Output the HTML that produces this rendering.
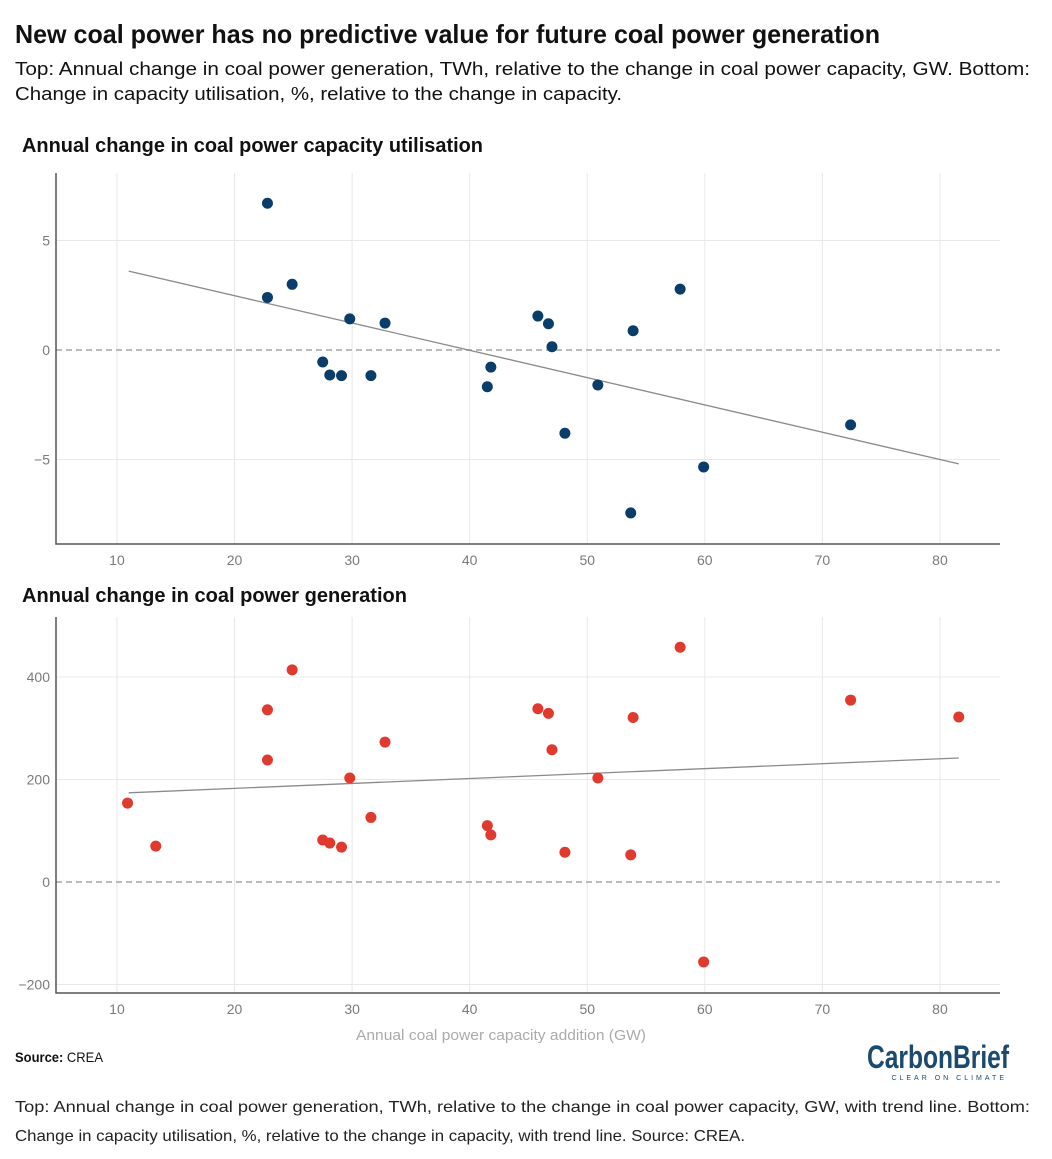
<!DOCTYPE html>
<html><head><meta charset="utf-8"><style>
html,body{margin:0;padding:0;background:#fff;}
svg{display:block;font-family:"Liberation Sans",sans-serif;}
.tick{fill:#7a7a7a;font-size:14px;}
</style></head><body>
<svg id="chart" width="1052" height="1159" viewBox="0 0 1052 1159" xmlns="http://www.w3.org/2000/svg">
<text x="15" y="43" font-size="26" font-weight="bold" fill="#111" textLength="865" lengthAdjust="spacingAndGlyphs">New coal power has no predictive value for future coal power generation</text>
<text x="15" y="75" font-size="18" fill="#111" textLength="1015" lengthAdjust="spacingAndGlyphs">Top: Annual change in coal power generation, TWh, relative to the change in coal power capacity, GW. Bottom:</text>
<text x="15" y="100" font-size="18" fill="#111" textLength="607" lengthAdjust="spacingAndGlyphs">Change in capacity utilisation, %, relative to the change in capacity.</text>
<text x="22" y="152" font-size="20" font-weight="bold" fill="#111" textLength="461" lengthAdjust="spacingAndGlyphs">Annual change in coal power capacity utilisation</text>
<text x="22" y="602" font-size="20" font-weight="bold" fill="#111" textLength="385" lengthAdjust="spacingAndGlyphs">Annual change in coal power generation</text>
<g id="top"></g>
<g id="bot"></g>
<text x="501" y="1040" font-size="15" fill="#aaa" text-anchor="middle" textLength="290" lengthAdjust="spacingAndGlyphs">Annual coal power capacity addition (GW)</text>
<text x="15" y="1062" font-size="14" fill="#111" textLength="88" lengthAdjust="spacingAndGlyphs"><tspan font-weight="bold">Source:</tspan> CREA</text>
<g>
<text x="1009" y="1068" font-size="32" font-weight="bold" fill="#1b4a70" text-anchor="end" textLength="142" lengthAdjust="spacingAndGlyphs">CarbonBrief</text>
<text x="1007" y="1080" font-size="7" fill="#1b4a70" text-anchor="end" letter-spacing="3">CLEAR ON CLIMATE</text>
</g>
<text x="15" y="1112" font-size="16" fill="#222" textLength="1015" lengthAdjust="spacingAndGlyphs">Top: Annual change in coal power generation, TWh, relative to the change in coal power capacity, GW, with trend line. Bottom:</text>
<text x="15" y="1141" font-size="16" fill="#222" textLength="730" lengthAdjust="spacingAndGlyphs">Change in capacity utilisation, %, relative to the change in capacity, with trend line. Source: CREA.</text>
</svg>
<script>
const xTicks=[10,20,30,40,50,60,70,80];
const topYTicks=[5,0,-5];
const botYTicks=[400,200,0,-200];
const topX=[22.8,22.8,24.9,27.5,28.1,29.1,29.8,31.6,32.8,41.5,41.8,45.8,46.7,47.0,48.1,50.9,53.7,53.9,57.9,59.9,72.4];
const topY=[6.7,2.4,3.0,-0.55,-1.14,-1.17,1.42,-1.17,1.23,-1.68,-0.78,1.55,1.2,0.15,-3.8,-1.6,-7.44,0.88,2.78,-5.34,-3.42];
const botX=[10.9,13.3,22.8,22.8,24.9,27.5,28.1,29.1,29.8,31.6,32.8,41.5,41.8,45.8,46.7,47.0,48.1,50.9,53.7,53.9,57.9,59.9,72.4,81.6];
const botY=[154,70,336,238,414,82,76,68,203,126,273,110,92,338,329,258,58,203,53,321,458,-156,355,322];
const topTrendX=[11,81.6], topTrendY=[3.6,-5.2];
const botTrendX=[11,81.6], botTrendY=[174,242];
const NS="http://www.w3.org/2000/svg";
const xs=v=>-0.6+11.757*v;
function mk(p,tag,a){const e=document.createElementNS(NS,tag);for(const k in a)e.setAttribute(k,a[k]);p.appendChild(e);return e;}
function draw(g,yScale,yTicks,X,Y,tX,tY,color,top,bottom,name){
  xTicks.forEach(t=>{const l=mk(g,'line',{x1:xs(t),x2:xs(t),y1:top,y2:bottom,stroke:'#e8e8e8','stroke-width':1});
    
    
    const tx=mk(g,'text',{x:xs(t),y:bottom+21,'text-anchor':'middle',class:'tick'});tx.textContent=t;
    
    });
  yTicks.forEach(t=>{const y=yScale(t);
    const l=mk(g,'line',{x1:56,x2:1000,y1:y,y2:y,stroke:t===0?'#bbb':'#e8e8e8','stroke-width':t===0?2:1,'stroke-dasharray':t===0?'6 4':'none'});
    
    
    const tx=mk(g,'text',{x:50,y:y+5,'text-anchor':'end',class:'tick'});tx.textContent=t<0?'\u2212'+(-t):t;
    
    });
  const ax=mk(g,'path',{d:`M56 ${top}V${bottom}H1000`,fill:'none',stroke:'#555','stroke-width':1.5});
  
  
  const tl=mk(g,'line',{x1:xs(tX[0]),y1:yScale(tY[0]),x2:xs(tX[1]),y2:yScale(tY[1]),stroke:'#8a8a8a','stroke-width':1.3});
  
  
  X.forEach((v,i)=>{const c=mk(g,'circle',{cx:xs(v),cy:yScale(Y[i]),r:5.5,fill:color});
    
    });
}
draw(document.getElementById('top'),v=>350-21.9*v,topYTicks,topX,topY,topTrendX,topTrendY,'#0b3d6b',173,544,'utilisation-point');
draw(document.getElementById('bot'),v=>882-0.5125*v,botYTicks,botX,botY,botTrendX,botTrendY,'#e03a2f',617,993,'generation-point');
</script>
</body></html>
